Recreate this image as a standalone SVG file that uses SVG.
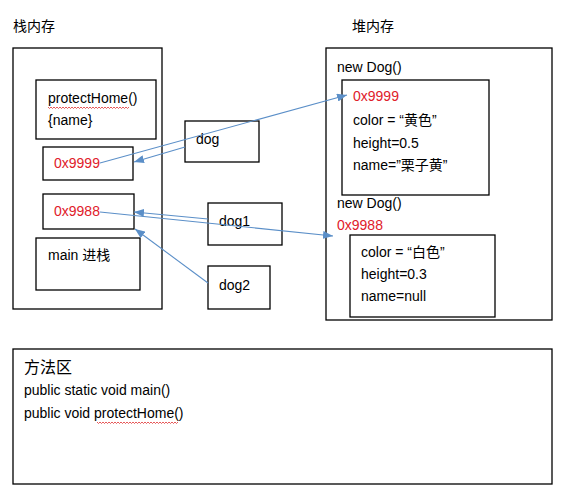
<svg xmlns="http://www.w3.org/2000/svg" width="570" height="501" viewBox="0 0 570 501">
<defs>
<marker id="ah" viewBox="0 0 10 8" refX="10" refY="4" markerWidth="10" markerHeight="8" markerUnits="userSpaceOnUse" orient="auto">
<path d="M0,0 L10,4 L0,8 Z" fill="#5b8fc8"/>
</marker>
<path id="squig" d="M0,0 l1.5,1.5 l1.5,-1.5 l1.5,1.5 l1.5,-1.5 l1.5,1.5 l1.5,-1.5 l1.5,1.5 l1.5,-1.5 l1.5,1.5 l1.5,-1.5 l1.5,1.5 l1.5,-1.5 l1.5,1.5 l1.5,-1.5 l1.5,1.5 l1.5,-1.5 l1.5,1.5 l1.5,-1.5 l1.5,1.5 l1.5,-1.5 l1.5,1.5 l1.5,-1.5 l1.5,1.5 l1.5,-1.5 l1.5,1.5 l1.5,-1.5 l1.5,1.5 l1.5,-1.5 l1.5,1.5 l1.5,-1.5 l1.5,1.5 l1.5,-1.5 l1.5,1.5 l1.5,-1.5 l1.5,1.5 l1.5,-1.5 l1.5,1.5 l1.5,-1.5 l1.5,1.5 l1.5,-1.5 l1.5,1.5 l1.5,-1.5 l1.5,1.5 l1.5,-1.5 l1.5,1.5 l1.5,-1.5 l1.5,1.5 l1.5,-1.5 l1.5,1.5 l1.5,-1.5 l1.5,1.5 l1.5,-1.5 l1.5,1.5 l1.5,-1.5" fill="none" stroke="#e03030" stroke-width="0.8"/>
<style>
.box{fill:#fff;stroke:#000;stroke-width:1.3}
.t{font-family:"Liberation Sans","Noto Sans CJK SC",sans-serif;font-size:14px;fill:#000}
.r{fill:#e0202a}
.m{font-size:16px}
.ln{stroke:#5b8fc8;stroke-width:1.1;fill:none;marker-end:url(#ah)}
</style>
</defs>
<rect width="570" height="501" fill="#fff"/>

<g id="stack">
<text class="t" x="13" y="31">栈内存</text>
<rect class="box" x="13" y="48" width="149" height="261"/>
</g>
<g id="protectHome">
<rect class="box" x="36" y="80" width="120" height="59"/>
<text class="t" x="48" y="103">protectHome()</text>
<use href="#squig" x="48" y="107"/>
<text class="t" x="48" y="125">{name}</text>
</g>
<g id="ref9999">
<rect class="box" x="43" y="147" width="90" height="33"/>
<text class="t r" x="54" y="168">0x9999</text>
</g>
<g id="ref9988">
<rect class="box" x="43" y="194" width="91" height="35"/>
<text class="t r" x="54" y="216">0x9988</text>
</g>
<g id="main">
<rect class="box" x="36" y="238" width="104" height="52"/>
<text class="t" x="48" y="260">main 进栈</text>
</g>

<g id="dog">
<rect class="box" x="185" y="121" width="74" height="41"/>
<text class="t" x="196" y="144">dog</text>
</g>
<g id="dog1">
<rect class="box" x="208" y="203" width="74" height="42"/>
<text class="t" x="219" y="226">dog1</text>
</g>
<g id="dog2">
<rect class="box" x="208" y="266" width="62" height="43"/>
<text class="t" x="219" y="290">dog2</text>
</g>

<g id="heap">
<text class="t" x="352" y="31">堆内存</text>
<rect class="box" x="326" y="48" width="226" height="272"/>
<text class="t" x="337" y="72">new Dog()</text>
<text class="t" x="337" y="208">new Dog()</text>
<text class="t r" x="337" y="230">0x9988</text>
</g>
<g id="obj9999">
<rect class="box" x="342" y="80" width="147" height="115"/>
<text class="t r" x="353" y="101">0x9999</text>
<text class="t" x="353" y="125">color = “黄色”</text>
<text class="t" x="353" y="148">height=0.5</text>
<text class="t" x="353" y="170">name=”栗子黄”</text>
</g>
<g id="obj9988">
<rect class="box" x="350" y="235" width="145" height="82"/>
<text class="t" x="361" y="257">color = “白色”</text>
<text class="t" x="361" y="279">height=0.3</text>
<text class="t" x="361" y="301">name=null</text>
</g>

<g id="method">
<rect class="box" x="13" y="349" width="539" height="135"/>
<text class="t m" x="24" y="373">方法区</text>
<text class="t" x="24" y="395">public static void main()</text>
<text class="t" x="24" y="418">public void protectHome()</text>
<use href="#squig" x="97" y="422"/>
</g>

<g id="connectors">
<path class="ln" d="M100,163 L347,95"/>
<path class="ln" d="M185,147 L134,162"/>
<path class="ln" d="M100,212 L333,236"/>
<path class="ln" d="M208,219 L134,212"/>
<path class="ln" d="M208,283 L135,229"/>
</g>
</svg>
